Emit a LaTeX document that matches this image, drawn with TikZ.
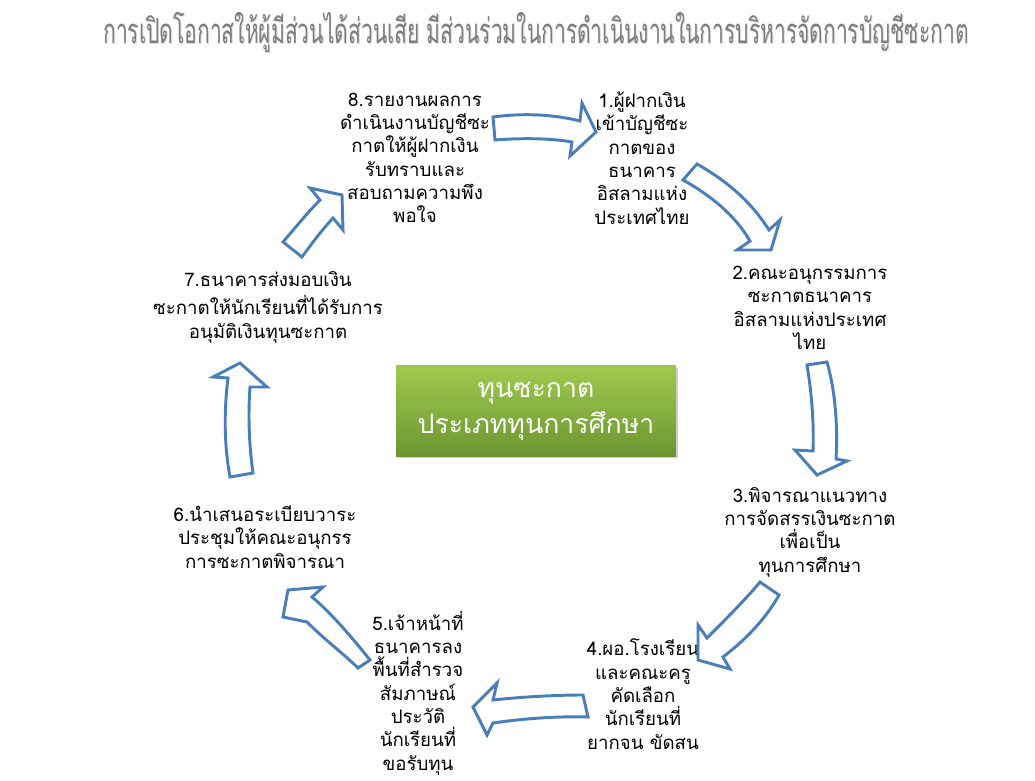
\documentclass[tikz,border=0pt]{standalone}
\usepackage{fontspec}
\newfontfamily\thai[Script=Thai]{Loma}
\usetikzlibrary{shadows}
\definecolor{arrowblue}{RGB}{74,126,187}
\definecolor{titlegray}{RGB}{125,125,125}
\definecolor{shadowgray}{RGB}{222,222,222}
\definecolor{gtop}{RGB}{160,202,78}
\definecolor{gbot}{RGB}{108,150,50}
\tikzset{
  barrow/.style={draw=arrowblue, line width=2.2pt, fill=white, line join=miter},
  lbl/.style={align=center, font=\thai\fontsize{14}{17.5}\selectfont, inner sep=0pt},
  greenbox/.style={top color=gtop, bottom color=gbot, draw=none,
    minimum width=210pt, minimum height=68pt, align=center, text=white,
    font=\thai\fontsize{20}{27}\selectfont,
    drop shadow={shadow xshift=1.5pt, shadow yshift=-1.5pt, opacity=0.35}},
  ttl/.style={font=\thai\fontsize{26}{30}\selectfont, inner sep=0pt}
}
\begin{document}
\begin{tikzpicture}[x=0.75pt,y=-0.75pt]
\useasboundingbox[fill=white] (0,0) rectangle (1035,781);
% title
\node[ttl, text=shadowgray] at (536.8,33.3) {\scalebox{0.607}[1]{การเปิดโอกาสให้ผู้มีส่วนได้ส่วนเสีย มีส่วนร่วมในการดำเนินงานในการบริหารจัดการบัญชีซะกาต}};
\node[ttl, text=titlegray] (title) at (536,32) {\scalebox{0.607}[1]{การเปิดโอกาสให้ผู้มีส่วนได้ส่วนเสีย มีส่วนร่วมในการดำเนินงานในการบริหารจัดการบัญชีซะกาต}};
% centre
\node[greenbox] (c) at (536,411) {ทุนซะกาต\\ประเภททุนการศึกษา};
% labels
\node[lbl] (n8) at (415,158) {8.รายงานผลการ\\ดำเนินงานบัญชีซะ\\กาตให้ผู้ฝากเงิน\\รับทราบและ\\สอบถามความพึง\\พอใจ};
\node[lbl] (n1) at (642,158) {1.ผู้ฝากเงิน\\เข้าบัญชีซะ\\กาตของ\\ธนาคาร\\อิสลามแห่ง\\ประเทศไทย};
\node[lbl] (n2) at (810,308) {2.คณะอนุกรรมการ\\ซะกาตธนาคาร\\อิสลามแห่งประเทศ\\ไทย};
\node[lbl] (n3) at (810,532) {3.พิจารณาแนวทาง\\การจัดสรรเงินซะกาต\\เพื่อเป็น\\ทุนการศึกษา};
\node[lbl] (n4) at (643,694) {4.ผอ.โรงเรียน\\และคณะครู\\คัดเลือก\\นักเรียนที่\\ยากจน ขัดสน};
\node[lbl] (n5) at (418,693) {5.เจ้าหน้าที่\\ธนาคารลง\\พื้นที่สำรวจ\\สัมภาษณ์\\ประวัติ\\นักเรียนที่\\ขอรับทุน};
\node[lbl] (n6) at (265,537) {6.นำเสนอระเบียบวาระ\\ประชุมให้คณะอนุกรร\\การซะกาตพิจารณา};
\node[lbl] (n7) at (268,307) {7.ธนาคารส่งมอบเงิน\\[4pt]ซะกาตให้นักเรียนที่ได้รับการ\\อนุมัติเงินทุนซะกาต};
% block arrows
\draw[barrow] (493,117) .. controls (530,112) and (560,116) .. (580,121) -- (582,103) -- (596,132) -- (570,156) -- (572,142) .. controls (550,138) and (520,138) .. (495,140) -- cycle;
\draw[barrow] (697,164) .. controls (725,180) and (750,200) .. (769,230) -- (780,220) -- (771,250) -- (737,250) -- (750,241) .. controls (735,215) and (710,195) .. (683,180) -- cycle;
\draw[barrow] (807,365) .. controls (812,395) and (814,425) .. (813,451) -- (795,450) -- (817,475) -- (847,461) -- (836,459) .. controls (838,425) and (835,390) .. (827,362) -- cycle;
\draw[barrow] (760,582) .. controls (745,600) and (725,620) .. (707,638) -- (698,625) -- (698,660) -- (730,669) -- (723,657) .. controls (745,640) and (765,620) .. (779,595) -- cycle;
\draw[barrow] (583,695) .. controls (555,695) and (520,697) .. (493,700) -- (497,683) -- (473,707) -- (487,735) -- (493,723) .. controls (520,719) and (555,716) .. (588,717) -- cycle;
\draw[barrow] (370,660) .. controls (350,635) and (330,612) .. (312,597) -- (323,587) -- (288,590) -- (283,617) -- (307,622) .. controls (325,640) and (345,655) .. (358,668) -- cycle;
\draw[barrow] (230,477) .. controls (224,445) and (224,410) .. (228,378) -- (213,377) -- (240,363) -- (267,387) -- (250,387) .. controls (248,415) and (249,445) .. (253,473) -- cycle;
\draw[barrow] (283,242) .. controls (295,228) and (308,212) .. (320,200) -- (310,188) -- (342,195) -- (343,230) -- (333,218) .. controls (322,230) and (312,243) .. (302,257) -- cycle;
\end{tikzpicture}
\end{document}
